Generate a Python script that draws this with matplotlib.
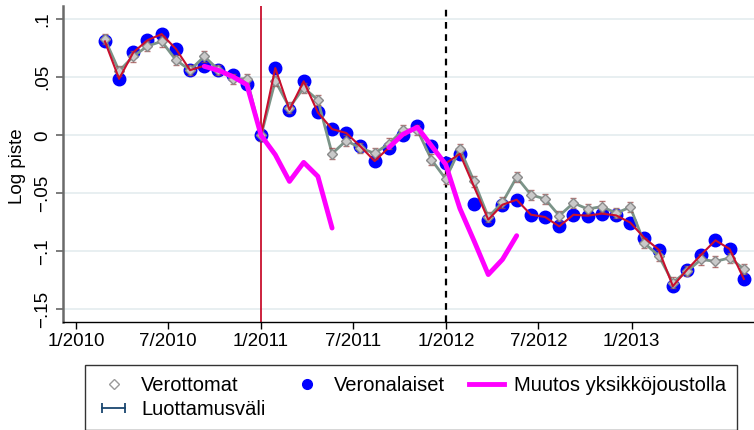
import pandas as pd
import matplotlib
matplotlib.use("Agg")
import matplotlib.pyplot as plt
from matplotlib.lines import Line2D
from matplotlib.legend_handler import HandlerLine2D

plt.rcParams['font.family'] = ['Liberation Sans', 'DejaVu Sans']

# --- DATA ---
# 4 viikon jaksot, jakso alkaa 1/2011 kohdalla (arvo 0)
jaksot = pd.date_range('2010-02-27', periods=46, freq='28D')

veronalaiset = [0.081, 0.0487, 0.0715, 0.082, 0.0873, 0.0745, 0.0562, 0.060, 0.056, 0.052, 0.0444,
                0.0, 0.058, 0.022, 0.0466, 0.0197, 0.0054, 0.002, -0.0096, -0.0222, -0.0105, 0.0005,
                0.0083, -0.0093, -0.0242, -0.0159, -0.059, -0.0727, -0.0598, -0.0555, -0.0684, -0.0704,
                -0.0785, -0.0684, -0.0693, -0.0675, -0.069, -0.0752, -0.0885, -0.0985, -0.130, -0.1158,
                -0.1028, -0.0905, -0.098, -0.1238]

verottomat = [0.083, 0.0555, 0.068, 0.077, 0.081, 0.065, 0.0562, 0.068, 0.0565, 0.0487, 0.0488,
              0.0, 0.047, 0.024, 0.041, 0.0305, -0.0158, -0.0045, -0.011, -0.0155, -0.0072, 0.0045,
              0.0048, -0.021, -0.0376, -0.0117, -0.0397, -0.0704, -0.0578, -0.036, -0.0512, -0.0549,
              -0.0693, -0.0583, -0.0635, -0.0614, -0.067, -0.062, -0.093, -0.1037, -0.127, -0.117,
              -0.107, -0.1086, -0.1057, -0.1152]

# punainen viiva kulkee veronalaisten kautta, mutta yksi jakso puuttuu (3/2012)
punainen = list(veronalaiset)
punainen[26] = None

muutos = ([None] * 7
          + [0.0595, 0.056, 0.0507, 0.0436, 0.0, -0.0167, -0.0397, -0.0233, -0.0354, -0.0799]
          + [None] * 3
          + [-0.0105, 0.001, 0.007, -0.009, -0.025, -0.063, -0.091, -0.120, -0.107, -0.0865]
          + [None] * 16)

luottamus_puoli = 0.0045  # luottamusvälin puolileveys (lähes vakio kuvassa)

x_tikit = pd.to_datetime(['2010-01-01', '2010-07-01', '2011-01-01', '2011-07-01',
                          '2012-01-01', '2012-07-01', '2013-01-01'])
x_nimet = ['1/2010', '7/2010', '1/2011', '7/2011', '1/2012', '7/2012', '1/2013']
y_tikit = [0.1, 0.05, 0, -0.05, -0.1, -0.15]
y_nimet = ['.1', '.05', '0', '\u2212.05', '\u2212.1', '\u2212.15']

# --- KUVA ---
fig = plt.figure(figsize=(7.54, 4.30), dpi=100)
ax = fig.add_axes([63.3 / 754, 108 / 430, 1 - 63.3 / 754, 316 / 430])

ax.set_ylim(-0.1609, 0.1115)
ax.set_xlim(pd.Timestamp('2009-12-07'), pd.Timestamp('2013-08-30'))

for y in y_tikit:
    ax.axhline(y, color='#e6eef0', lw=1.3, zorder=0)

ax.axvline(pd.Timestamp('2011-01-01'), color='#c8102e', lw=1.3, zorder=1)
ax.axvline(pd.Timestamp('2012-01-01'), color='black', lw=1.6, ls=(0, (3, 2.5)), zorder=1)

d = pd.DataFrame({'pvm': jaksot, 'vero': veronalaiset, 'veroton': verottomat,
                  'pun': pd.to_numeric(pd.Series(punainen)), 'muutos': pd.to_numeric(pd.Series(muutos))})

ax.plot(d['pvm'], d['vero'], 'o', color='#0000ff', ms=9, zorder=2)
ax.plot(d['pvm'], d['veroton'], '-', color='#7b9488', lw=2, zorder=3)
ax.errorbar(d['pvm'], d['veroton'], yerr=luottamus_puoli, fmt='none', ecolor='#9b4a4a',
            elinewidth=0.8, capsize=2.5, capthick=1, alpha=0.75, zorder=4)
ax.plot(d['pvm'], d['veroton'], 'D', mfc='#c9c9c9', mec='#8a8a8a', mew=1, ms=5.5, zorder=4)
pun = d.dropna(subset=['pun'])
ax.plot(pun['pvm'], pun['pun'], '-', color='#c8102e', lw=1.5, zorder=5)
ax.plot(d['pvm'], d['muutos'], '-', color='#ff00ff', lw=3.5, solid_capstyle='round', zorder=6)

ax.set_xticks(x_tikit)
ax.set_xticklabels(x_nimet, fontsize=13.5)
ax.set_yticks(y_tikit)
ax.set_yticklabels(y_nimet, fontsize=13.5, rotation=90, va='center')
ax.tick_params(axis='x', length=5, width=1, pad=3)
ax.tick_params(axis='y', length=5, width=1.2, color='#666666', pad=4)

for s in ['top', 'right']:
    ax.spines[s].set_visible(False)
ax.spines['left'].set_color('#6a6a6a')
ax.spines['left'].set_linewidth(1.8)
ax.spines['bottom'].set_linewidth(1.0)

fig.text(18 / 754, 1 - 166 / 430, 'Log piste', rotation=90, ha='center', va='center', fontsize=13.5)

# --- SELITE ---
h_veroton = Line2D([], [], ls='none', marker='D', mfc='white', mec='#9a9a9a', ms=5)
h_vero = Line2D([], [], ls='none', marker='o', color='#0000ff', ms=7)
h_muutos = Line2D([], [], color='#ff00ff', lw=3.5)
h_ci = Line2D([], [], color='#1a476f', lw=1.3, marker='|', ms=7, mew=1.3)

leg = fig.legend([h_veroton, h_ci, h_vero, h_muutos],
                 ['Verottomat', 'Luottamusväli', 'Veronalaiset', 'Muutos yksikköjoustolla'],
                 ncol=3, loc='upper left', bbox_to_anchor=(85 / 754, 1 - 365 / 430),
                 borderaxespad=0, fontsize=14.5, frameon=True, fancybox=False, edgecolor='black',
                 handlelength=1.75, handletextpad=0.5, borderpad=0.55, labelspacing=0.25,
                 columnspacing=1.15,
                 handler_map={h_ci: HandlerLine2D(numpoints=2)})
leg.get_frame().set_linewidth(1.0)

fig.savefig('out.png', dpi=100)
